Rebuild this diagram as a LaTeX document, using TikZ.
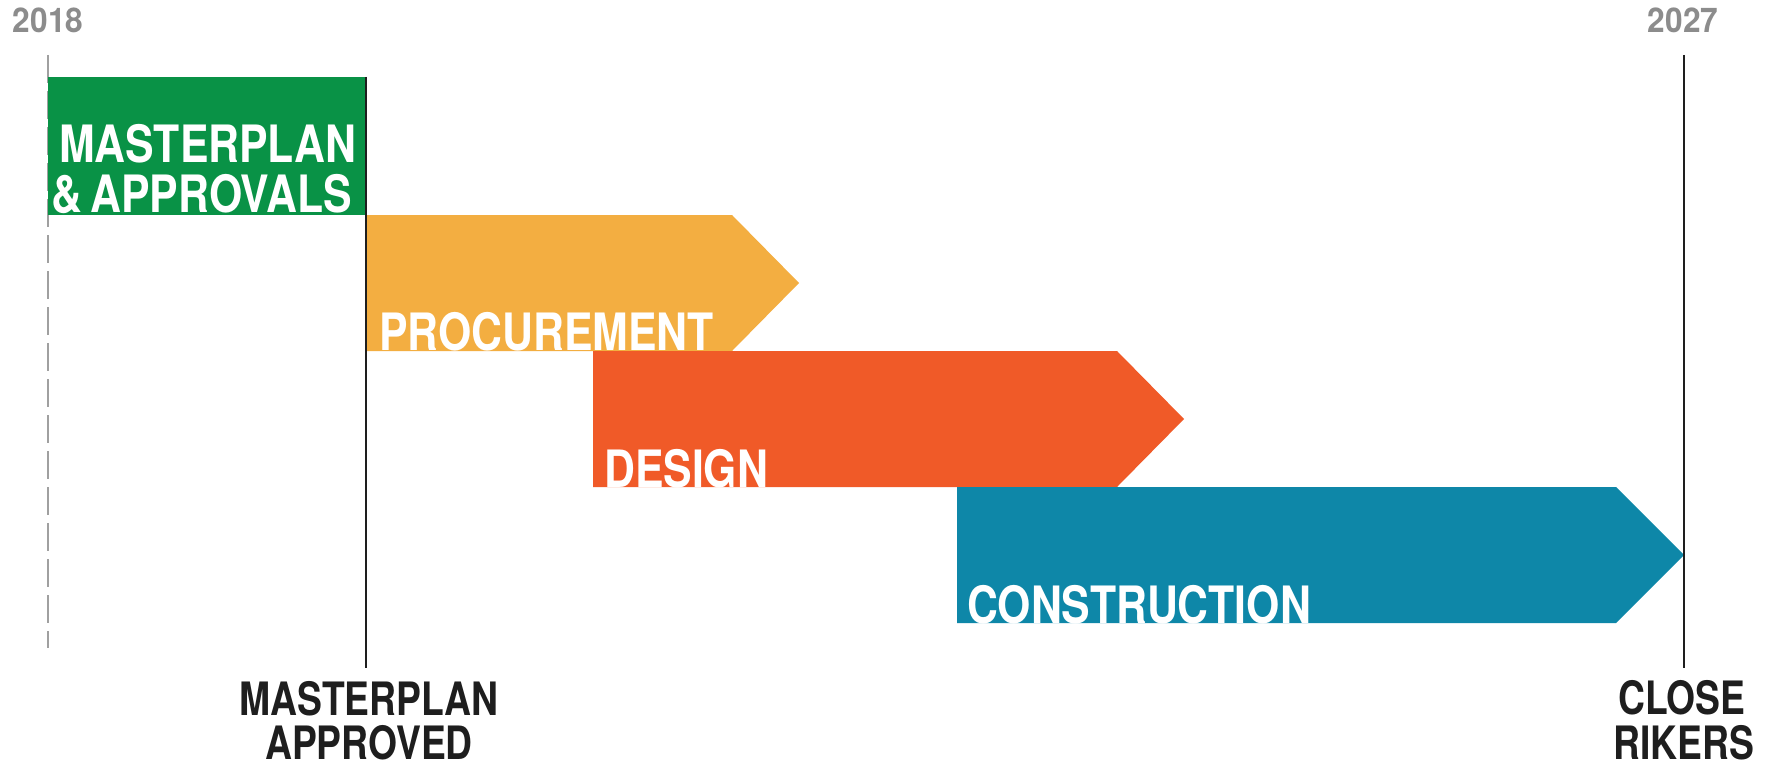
\documentclass[tikz,border=0pt]{standalone}
\usepackage{fontspec}
\newfontfamily\condfont[FakeStretch=0.81]{TeX Gyre Heros}
\newfontfamily\bandfont[FakeStretch=0.83]{TeX Gyre Heros}
\newfontfamily\yearfont[FakeStretch=0.93]{TeX Gyre Heros}
\definecolor{bandgreen}{RGB}{9,146,70}
\definecolor{bandorange}{RGB}{243,174,65}
\definecolor{bandred}{RGB}{240,90,40}
\definecolor{bandblue}{RGB}{14,135,168}
\definecolor{yeargray}{RGB}{140,140,140}
\definecolor{dashgray}{RGB}{160,160,160}
\definecolor{inkblack}{RGB}{30,30,30}
\begin{document}
\begin{tikzpicture}[x=1pt,y=-1pt,
  bandlabel/.style={font=\bandfont\bfseries\fontsize{51.5}{48}\selectfont, text=white, anchor=base west, inner sep=0pt},
  milestone/.style={font=\condfont\bfseries\fontsize{46}{50}\selectfont, text=inkblack, anchor=base, inner sep=0pt},
  yearlabel/.style={font=\yearfont\bfseries\fontsize{34}{34}\selectfont, text=yeargray, anchor=base, inner sep=0pt},
  startline/.style={draw=dashgray, line width=2pt, dash pattern=on 28pt off 8pt},
  markline/.style={draw=inkblack, line width=2.2pt}]
\useasboundingbox[fill=white] (0,0) rectangle (1772,768);

% timeline marker coordinates
\coordinate (dashtop) at (47.5,55);
\coordinate (dashbot) at (47.5,648);
\coordinate (approvedtop) at (366,77);
\coordinate (approvedbot) at (366,668);
\coordinate (closetop) at (1684,55);
\coordinate (closebot) at (1684,668);

\draw[startline] (dashtop) -- (dashbot);

% bands
\fill[bandgreen] (47.5,77) rectangle (366,215);
\fill[bandorange] (367,215) -- (732,215) -- (799,283) -- (732,351) -- (367,351) -- cycle;
\fill[bandred] (593,351) -- (1117,351) -- (1184,419) -- (1117,487) -- (593,487) -- cycle;
\fill[bandblue] (957,487) -- (1616,487) -- (1684,555) -- (1616,623) -- (957,623) -- cycle;

\draw[markline] (approvedtop) -- (approvedbot);
\draw[markline] (closetop) -- (closebot);

% band labels
\node[bandlabel] (mpa1) at (59,162) {MASTERPLAN};
\node[bandlabel] (mpa2) at (51,212) {\&\,APPROVALS};
\node[bandlabel] (proc) at (379,350) {PROCUREMENT};
\node[bandlabel] (design) at (604,487) {DESIGN};
\node[bandlabel] (constr) at (967,623) {CONSTRUCTION};

% years
\node[yearlabel] (y2018) at (48,33) {2018};
\node[yearlabel] (y2027) at (1683,33) {2027};

% milestones
\node[milestone] (appr1) at (369,715) {MASTERPLAN};
\node[milestone] (appr2) at (369,759) {APPROVED};
\node[milestone] (close1) at (1682,714) {CLOSE};
\node[milestone] (close2) at (1684,759) {RIKERS};
\end{tikzpicture}
\end{document}
